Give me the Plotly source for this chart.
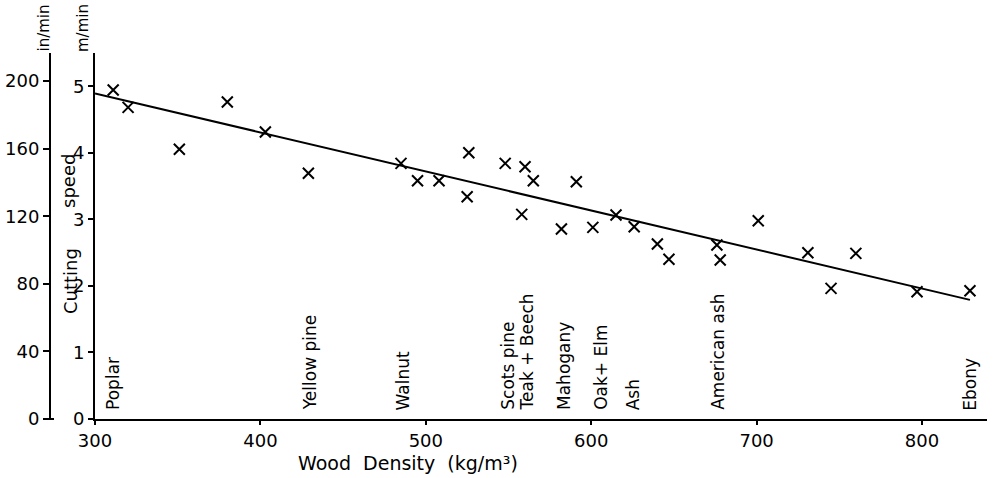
import plotly.graph_objects as go

# Measured cutting speed (in/min) against wood density (kg/m^3)
density = [311, 320, 351, 380, 403, 429, 485, 495, 508, 526, 525, 548, 560, 565,
           558, 582, 591, 601, 615, 626, 640, 647, 676, 678, 701, 731, 760, 745,
           797, 829]
speed_in = [194.7, 184.4, 159.6, 187.6, 169.8, 145.4, 151.3, 141.0, 141.0, 157.6,
            131.5, 151.3, 149.3, 141.0, 121.1, 112.4, 140.4, 113.4, 120.7, 113.8,
            103.6, 94.5, 103.0, 94.1, 117.3, 98.4, 98.0, 77.3, 75.3, 75.9]

# Fitted trend line end points
fit_density = [300, 829]
fit_speed = [192.7, 70.5]

# Species names placed at their typical densities
species = ["Poplar", "Yellow pine", "Walnut", "Scots pine", "Teak + Beech",
           "Mahogany", "Oak+ Elm", "Ash", "American ash", "Ebony"]
species_density = [311, 430, 486, 550, 561, 584, 606, 625, 677, 829]

x_ticks = [300, 400, 500, 600, 700, 800]
in_ticks = [0, 40, 80, 120, 160, 200]
m_ticks = [0, 1, 2, 3, 4, 5]

IN_PER_M = 39.37
Y_TOP = 216.6
X_RANGE = [300, 839.3]

FONT = "DejaVu Sans, sans-serif"
W, H = 993, 478
ML, MR, MT, MB = 40, 6, 53, 59
plot_w = W - ML - MR
x0 = (95 - ML) / plot_w
in_pos = (50 - ML) / plot_w

fig = go.Figure()
fig.add_trace(go.Scatter(x=fit_density, y=fit_speed, mode="lines",
                         line=dict(color="black", width=2), hoverinfo="skip"))
fig.add_trace(go.Scatter(x=density, y=speed_in, mode="markers",
                         marker=dict(symbol="x-thin-open", size=11,
                                     line=dict(color="black", width=2),
                                     color="black")))
# invisible trace so the m/min axis is drawn
fig.add_trace(go.Scatter(x=[300], y=[0], yaxis="y2", mode="markers",
                         marker=dict(opacity=0), hoverinfo="skip"))

axis_common = dict(showgrid=False, zeroline=False, showline=True, linecolor="black",
                   linewidth=2, ticks="outside", tickcolor="black", tickwidth=2,
                   tickfont=dict(family=FONT, size=18, color="black"))

fig.update_layout(
    width=W, height=H, showlegend=False,
    margin=dict(l=ML, r=MR, t=MT, b=MB),
    paper_bgcolor="white", plot_bgcolor="white",
    font=dict(family=FONT, size=18, color="black"),
    xaxis=dict(domain=[x0, 1], range=X_RANGE, tickvals=x_ticks, ticklen=4,
               anchor="y", **axis_common),
    yaxis=dict(range=[0, Y_TOP], tickvals=in_ticks, ticklen=6, anchor="free",
               position=in_pos, **axis_common),
    yaxis2=dict(range=[0, Y_TOP / IN_PER_M], tickvals=m_ticks, ticklen=5,
                overlaying="y", anchor="x", side="left", **axis_common),
)

annotations = []
for name, d in zip(species, species_density):
    annotations.append(dict(x=d, y=4, xref="x", yref="y", text=name, textangle=-90,
                            xanchor="center", yanchor="bottom", showarrow=False,
                            font=dict(family=FONT, size=17, color="black")))


def px_x(px):
    return (px - ML) / plot_w


def px_y(py):
    return 1 - (py - MT) / (H - MT - MB)


for text, xp, ybot, size in [("in/min", 43, 54, 15), ("m/min", 83, 54, 15),
                             ("speed", 69, 210, 18), ("Cutting", 70, 316, 18)]:
    annotations.append(dict(x=px_x(xp), y=px_y(ybot), xref="paper", yref="paper",
                            text=text, textangle=-90, xanchor="center",
                            yanchor="bottom", showarrow=False,
                            font=dict(family=FONT, size=size, color="black")))

annotations.append(dict(x=px_x(296), y=px_y(463), xref="paper", yref="paper",
                        text="Wood\u00a0\u00a0Density\u00a0\u00a0(kg/m\u00b3)",
                        xanchor="left", yanchor="middle", showarrow=False,
                        font=dict(family=FONT, size=19, color="black")))
fig.update_layout(annotations=annotations)

# small foot at the bottom of the in/min axis
fig.add_shape(type="line", xref="paper", yref="paper",
              x0=px_x(49), x1=px_x(54), y0=0, y1=0,
              line=dict(color="black", width=2))

fig.write_html("out.html")
